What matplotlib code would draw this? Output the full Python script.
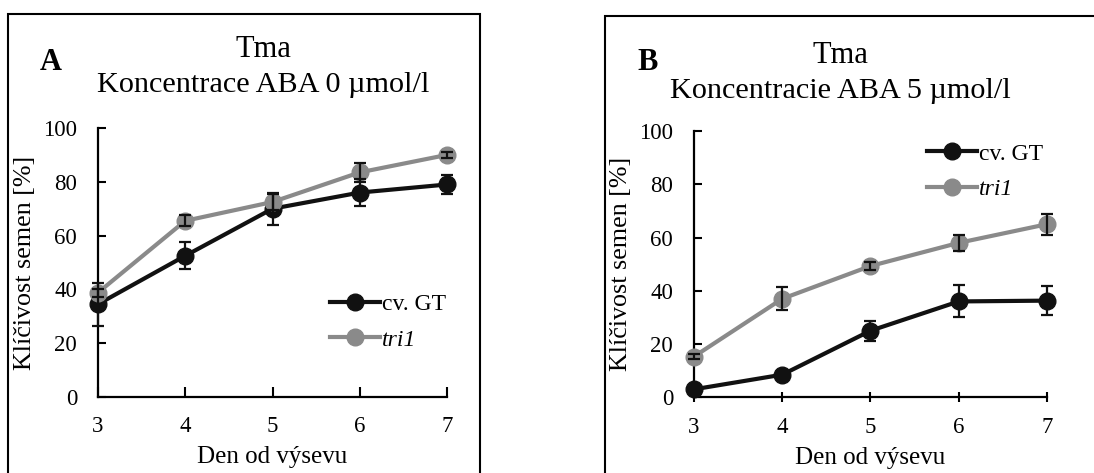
import matplotlib.pyplot as plt
from matplotlib.patches import Rectangle

plt.rcParams['font.family'] = ['Liberation Serif', 'DejaVu Serif']

# Data
days = [3, 4, 5, 6, 7]

gt_a = [34.5, 52.5, 70, 76, 79]
gt_a_err = [8, 5, 6, 5, 3.5]
tri_a = [38.8, 65.5, 72.5, 83.5, 90]
tri_a_err = [1.5, 2, 3, 3.5, 1.2]

gt_b = [3, 8.5, 25, 36, 36.3]
gt_b_err = [1, 1, 3.7, 6, 5.5]
tri_b = [15.3, 37, 49.3, 58, 65]
tri_b_err = [1, 4.3, 1.5, 3, 4]

title_top = "Tma"
titles = ["Koncentrace ABA 0 µmol/l", "Koncentracie ABA 5 µmol/l"]
letters = ["A", "B"]

BLACK = "#111111"
GRAY = "#8a8a8a"

W, H = 1094, 473
fig = plt.figure(figsize=(W / 100, H / 100), dpi=100)

# panel frames
fig.patches.append(Rectangle((8 / W, -0.1), 472 / W, 1.1 - 14 / H,
                             transform=fig.transFigure, fill=False,
                             edgecolor="black", linewidth=1.5))
fig.patches.append(Rectangle((605 / W, -0.1), 0.5, 1.1 - 16 / H,
                             transform=fig.transFigure, fill=False,
                             edgecolor="black", linewidth=1.5))

ax_a = fig.add_axes([98 / W, 1 - 397 / H, 349 / W, 269 / H])
ax_b = fig.add_axes([694 / W, 1 - 397.3 / H, 353 / W, 266.3 / H])

panels = [
    (ax_a, gt_a, gt_a_err, tri_a, tri_a_err, (0.665, 0.385), "in", 14,
     263, 57, 92, 40, 70),
    (ax_b, gt_b, gt_b_err, tri_b, tri_b_err, (0.66, 0.955), "inout", 11,
     840, 63, 98, 637, 70),
]

for i, (ax, gt, gte, tri, trie, leg_pos, xdir, xpad,
        tx, ty1, ty2, lx, ly) in enumerate(panels):
    ax.plot(days, gt, color=BLACK, lw=3, marker="o", ms=12,
            label="cv. GT", clip_on=False, zorder=3)
    ax.plot(days, tri, color=GRAY, lw=3, marker="o", ms=12,
            label="tri1", clip_on=False, zorder=4)
    ax.errorbar(days, gt, yerr=gte, fmt="none", ecolor=BLACK, elinewidth=1.6,
                capsize=4, capthick=1.6, clip_on=False, zorder=5)
    ax.errorbar(days, tri, yerr=trie, fmt="none", ecolor=BLACK, elinewidth=1.6,
                capsize=4, capthick=1.6, clip_on=False, zorder=5)

    ax.set_xlim(3, 7)
    ax.set_ylim(0, 100)
    ax.set_xticks(days)
    ax.set_yticks(range(0, 101, 20))
    ax.spines["top"].set_visible(False)
    ax.spines["right"].set_visible(False)
    for s in ("left", "bottom"):
        ax.spines[s].set_linewidth(1.6)
    ax.tick_params(axis="y", direction="in", length=6, width=1.5,
                   labelsize=16.5, pad=15)
    ax.tick_params(axis="x", direction=xdir, length=7, width=1.5,
                   labelsize=16.5, pad=xpad)
    ax.set_xlabel("Den od výsevu", fontsize=18, labelpad=6)
    ax.set_ylabel("Klíčivost semen [%]", fontsize=18.7, labelpad=5)

    fig.text(tx / W, 1 - ty1 / H, title_top, ha="center", va="baseline",
             fontsize=22)
    fig.text(tx / W, 1 - ty2 / H, titles[i], ha="center", va="baseline",
             fontsize=21.8)
    fig.text(lx / W, 1 - ly / H, letters[i], fontsize=22, fontweight="bold",
             ha="left", va="baseline")

    leg = ax.legend(loc="upper left", bbox_to_anchor=leg_pos, frameon=False,
                    fontsize=17, handlelength=2.1, handletextpad=0.1,
                    labelspacing=0.6, borderpad=0, borderaxespad=0)
    leg.get_texts()[1].set_fontstyle("italic")

fig.savefig("out.png", dpi=100)
